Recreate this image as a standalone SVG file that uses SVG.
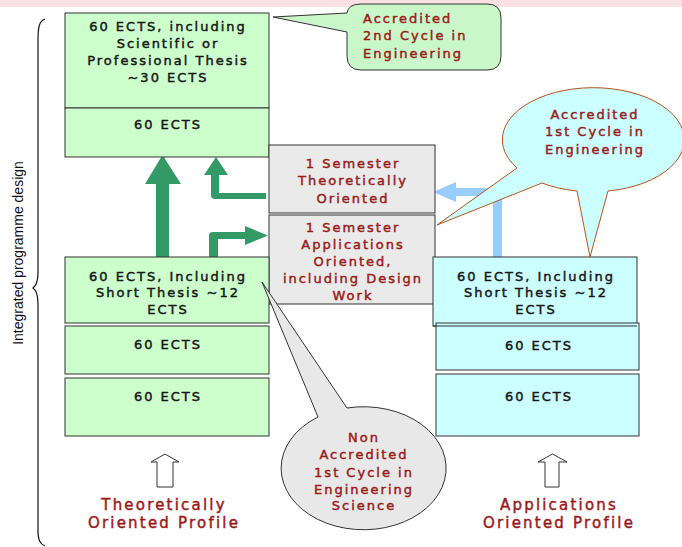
<svg xmlns="http://www.w3.org/2000/svg" width="682" height="547" viewBox="0 0 682 547">
<style>
.t{font-family:"DejaVu Sans","Liberation Sans",sans-serif;font-size:13px;font-weight:normal;letter-spacing:2px;text-anchor:middle;fill:#161616;stroke:#161616;stroke-width:0.45px}
.r{fill:#991b1b;stroke:#991b1b}
.p{font-size:15px;letter-spacing:2.2px}
.g{fill:#ccffcc;stroke:#333;stroke-width:1}
.c{fill:#ccffff;stroke:#333;stroke-width:1}
.s{fill:#eaeaea;stroke:#333;stroke-width:1}
</style>
<rect x="0" y="0" width="682" height="7" fill="#fae2e4"/>
<g id="brace">
<path d="M45,19 C39,21 38,28 38,40 L38,272 C38,282 36,286 33,288 C36,290 38,294 38,304 L38,530 C38,540 40,544 45,546" fill="none" stroke="#111" stroke-width="1.2"/>
<text transform="translate(23,253) rotate(-90)" text-anchor="middle" font-family="Liberation Sans, Arial, sans-serif" font-size="14" fill="#111">Integrated programme design</text>
</g>
<g id="connectors">
<path d="M156,257 L156,184 L145,184 L162.5,155 L181,184 L169,184 L169,257 Z" fill="#339966"/>
<path d="M266,193 L219,193 L219,175 L228,175 L216,157 L204,175 L211,175 L211,195 Q211,199 215,199 L266,199 Z" fill="#339966"/>
<path d="M209,257 L209,236 Q209,232 213,232 L245,232 L245,226 L268,235.5 L245,245 L245,239 L218,239 L218,257 Z" fill="#339966"/>
<path d="M493,257 L493,196 L456,196 L456,202 L433,192 L456,182 L456,188 L498,188 Q502,188 502,192 L502,257 Z" fill="#99ccff"/>
<path d="M157,487 L157,462 L151,462 L165,454 L179,462 L173,462 L173,487 Z" fill="#fff" stroke="#333" stroke-width="1"/>
<path d="M545,487 L545,462 L538,462 L552.5,454 L567,462 L559,462 L559,487 Z" fill="#fff" stroke="#333" stroke-width="1"/>
</g>
<g id="second-cycle">
<rect class="g" x="65" y="13" width="204" height="95"/>
<rect class="g" x="65" y="108" width="204" height="49"/>
<text class="t"><tspan x="168" y="31">60 ECTS, including</tspan><tspan x="168" y="48">Scientific or</tspan><tspan x="168" y="65">Professional Thesis</tspan><tspan x="168" y="82">~30 ECTS</tspan></text>
<text class="t" x="168" y="129">60 ECTS</text>
</g>
<g id="sem-theory">
<rect class="s" x="269" y="145" width="166" height="68"/>
<text class="t r"><tspan x="353" y="168">1 Semester</tspan><tspan x="353" y="185">Theoretically</tspan><tspan x="353" y="203">Oriented</tspan></text>
</g>
<g id="sem-app">
<rect class="s" x="269" y="215" width="166" height="89"/>
<text class="t r"><tspan x="353" y="232">1 Semester</tspan><tspan x="353" y="249">Applications</tspan><tspan x="353" y="266">Oriented,</tspan><tspan x="353" y="283">including Design</tspan><tspan x="353" y="300">Work</tspan></text>
</g>
<g id="left-stack">
<rect class="g" x="65" y="257" width="204" height="66"/>
<rect class="g" x="65" y="326" width="204" height="48"/>
<rect class="g" x="65" y="378" width="204" height="58"/>
<text class="t"><tspan x="168" y="281">60 ECTS, Including</tspan><tspan x="168" y="297">Short Thesis ~12</tspan><tspan x="168" y="314">ECTS</tspan></text>
<text class="t" x="168" y="349">60 ECTS</text>
<text class="t" x="168" y="401">60 ECTS</text>
</g>
<g id="right-stack">
<rect class="c" x="433" y="257" width="204" height="69"/>
<rect class="c" x="436" y="323" width="203" height="47"/>
<rect class="c" x="436" y="374" width="203" height="62" stroke="#555"/>
<line x1="433" y1="326" x2="637" y2="326" stroke="#333"/>
<text class="t"><tspan x="536" y="281">60 ECTS, Including</tspan><tspan x="536" y="297">Short Thesis ~12</tspan><tspan x="536" y="314">ECTS</tspan></text>
<text class="t" x="539" y="350">60 ECTS</text>
<text class="t" x="539" y="401">60 ECTS</text>
</g>
<g id="callout-2nd">
<path d="M361,4 L487,4 Q501,4 501,18 L501,56 Q501,70 487,70 L361,70 Q347,70 347,56 L347,32 L273,17 L347,13 Q348,4 361,4 Z" fill="#c9f7c9" stroke="#333" stroke-width="1"/>
<text class="t r" style="text-anchor:start"><tspan x="363" y="23">Accredited</tspan><tspan x="363" y="40">2nd Cycle in</tspan><tspan x="363" y="58">Engineering</tspan></text>
</g>
<g id="callout-1st">
<path d="M517,168 L437,225 L542,183 A91,52 0 0 0 577,191 L590,257 L608,191 A91,52 0 1 0 517,168 Z" fill="#ccffff" stroke="#b3541e" stroke-width="1"/>
<text class="t r"><tspan x="595" y="119">Accredited</tspan><tspan x="595" y="136">1st Cycle in</tspan><tspan x="595" y="154">Engineering</tspan></text>
</g>
<g id="callout-non">
<path d="M318,417 L262,282 L347,408 A82.5,61.5 0 1 1 318,417 Z" fill="#e8e8e8" stroke="#333" stroke-width="1"/>
<text class="t r"><tspan x="364" y="442">Non</tspan><tspan x="364" y="459">Accredited</tspan><tspan x="364" y="477">1st Cycle in</tspan><tspan x="364" y="494">Engineering</tspan><tspan x="364" y="510">Science</tspan></text>
</g>
<g id="profile-theory">
<text class="t r p"><tspan x="164" y="510">Theoretically</tspan><tspan x="164" y="528">Oriented Profile</tspan></text>
</g>
<g id="profile-app">
<text class="t r p"><tspan x="559" y="510">Applications</tspan><tspan x="559" y="528">Oriented Profile</tspan></text>
</g>
</svg>
